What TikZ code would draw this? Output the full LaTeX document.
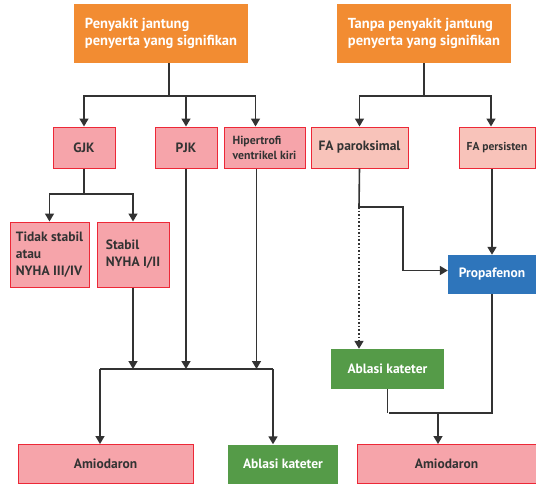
\documentclass[tikz,border=0pt]{standalone}
\usepackage{fontspec}
\setmainfont{PT Sans}
\usetikzlibrary{arrows.meta}
\definecolor{oranye}{RGB}{242,140,50}
\definecolor{merahmuda}{RGB}{246,164,170}
\definecolor{pucat}{RGB}{248,195,186}
\definecolor{garis}{RGB}{237,40,55}
\definecolor{biru}{RGB}{46,117,187}
\definecolor{hijau}{RGB}{85,155,72}
\definecolor{gelap}{RGB}{51,51,51}

\begin{document}
\begin{tikzpicture}[x=1pt,y=-1pt,
  kotak/.style={minimum height=41pt,inner sep=2pt,font=\bfseries\fontsize{13.5}{17}\selectfont,text=gelap},
  judul/.style={kotak,fill=oranye,text=white,minimum width=174pt,minimum height=59pt,align=left,font=\bfseries\fontsize{14.5}{17}\selectfont},
  merah/.style={kotak,fill=merahmuda,draw=garis,line width=1pt},
  muda/.style={kotak,fill=pucat,draw=garis,line width=1pt},
  biruk/.style={kotak,fill=biru,text=white,minimum height=39pt},
  hijauk/.style={kotak,fill=hijau,text=white,minimum height=40pt},
  panah/.style={draw=gelap,line width=1.6pt,-{Triangle[width=9pt,length=8pt]}},
  sambung/.style={draw=gelap,line width=1.6pt}]
\useasboundingbox (0,0) rectangle (536,483);
% baris atas
\node[judul] at(161,33.5)(oL) {Penyakit jantung\\penyerta yang signifikan};
\node[judul] at(424,33.5)(oR) {Tanpa penyakit jantung\\penyerta yang signifikan};
% baris kedua
\node[merah,minimum width=62pt] at(84,147.5)(gjk) {GJK};
\node[merah,minimum width=62pt] at(186,147.5)(pjk) {PJK};
\node[merah,minimum width=81pt,align=left,font=\bfseries\fontsize{11.8}{15}\selectfont] at(264.5,147.5)(hvk) {Hipertrofi\\ventrikel kiri};
\node[muda,minimum width=97pt] at(359.5,147.5)(fap) {FA paroksimal};
\node[muda,minimum width=76pt,font=\bfseries\fontsize{11.5}{14}\selectfont] at(497,147.5)(fas) {FA persisten};
% baris ketiga
\node[merah,minimum width=79pt,minimum height=65pt,align=left] at(49.5,254.5)(tsa) {Tidak stabil\\atau\\NYHA III/IV};
\node[merah,minimum width=72pt,minimum height=65pt,align=left] at(133,254.5)(sta) {Stabil\\NYHA I/II};
\node[biruk,minimum width=88pt] at(492,274.5)(prop) {Propafenon};
\node[hijauk,minimum width=113pt] at(387.5,369)(abR) {Ablasi kateter};
% baris bawah
\node[merah,minimum width=175pt,minimum height=39pt] at(105.5,464)(amL) {Amiodaron};
\node[hijauk,minimum width=110pt,minimum height=39pt] at(283,464)(abL) {Ablasi kateter};
\node[merah,minimum width=179pt,minimum height=39pt] at(446.5,464)(amR) {Amiodaron};
% titik belok
\coordinate (bL) at (169,96);
\coordinate (bR) at (424,96);
\coordinate (bG) at (84,194);
\coordinate (m1) at (100,369);
\coordinate (m2) at (273,369);
\coordinate (pF) at (359,207);
\coordinate (kP) at (403,207);
\coordinate (jR) at (389,413);
\coordinate (jA) at (438,413);
% kiri
\draw[sambung] (bL |- oL.south) -- (bL);
\draw[panah] (bL) -| (gjk.north);
\draw[panah] (bL) -| (pjk.north);
\draw[panah] (bL) -| ([xshift=-9pt]hvk.north);
\draw[sambung] (gjk.south) -- (bG);
\draw[panah] (bG) -| (tsa.north);
\draw[panah] (bG) -| (sta.north);
\draw[panah] (sta.south) -- (sta.south |- m1);
\draw[panah] (pjk.south) -- (pjk.south |- m1);
\draw[panah] ([xshift=-8pt]hvk.south) -- ([xshift=-8pt]hvk.south |- m1);
\draw[sambung] (m1) -- (m2);
\draw[panah] (m1) -- (m1 |- amL.north);
\draw[panah] (m2) -- (m2 |- abL.north);
% kanan
\draw[sambung] (oR.south) -- (bR);
\draw[panah] (bR) -| (fap.north);
\draw[panah] (bR) -| ([xshift=-6pt]fas.north);
\draw[sambung] (fap.south) -- (pF);
\draw[panah] (pF) -- (kP) |- ([yshift=4pt]prop.west);
\draw[panah,dotted] (pF) -- (pF |- abR.north);
\draw[panah] (prop.north |- fas.south) -- (prop.north);
\draw[sambung] (prop.south) |- (jR);
\draw[sambung] (abR.south) -- (abR.south |- jR);
\draw[panah] (jA) -- (jA |- amR.north);
\end{tikzpicture}
\end{document}
